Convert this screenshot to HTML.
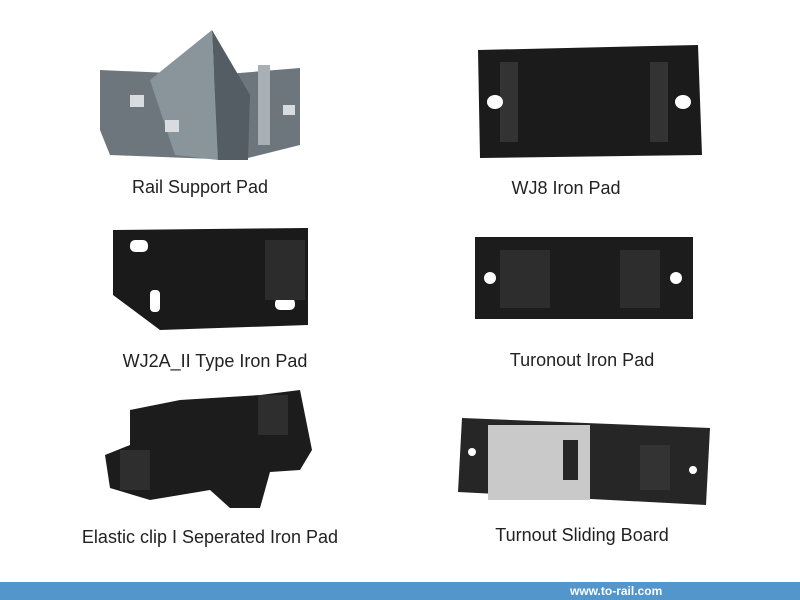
<!DOCTYPE html>
<html><head><meta charset="utf-8"><style>
html,body{margin:0;padding:0;background:#fff;width:800px;height:600px;overflow:hidden;font-family:"Liberation Sans",sans-serif}
.l{position:absolute;font-size:18px;color:#222;white-space:nowrap;transform:translateX(-50%)}
</style></head><body>
<svg width="800" height="600" style="position:absolute;left:0;top:0">
<!-- Rail support pad -->
<polygon points="100,70 215,75 300,68 300,145 240,160 110,155 100,130" fill="#6d767d"/>
<polygon points="150,80 212,30 218,160 175,155" fill="#8a949b"/>
<polygon points="212,30 250,95 248,160 218,160" fill="#545d63"/>
<rect x="258" y="65" width="12" height="80" fill="#a9b0b5"/>
<rect x="130" y="95" width="14" height="12" fill="#d8dcde"/>
<rect x="165" y="120" width="14" height="12" fill="#d8dcde"/>
<rect x="283" y="105" width="12" height="10" fill="#d8dcde"/>
<!-- WJ8 -->
<polygon points="478,50 698,45 702,155 480,158" fill="#1b1b1b"/>
<rect x="500" y="62" width="18" height="80" fill="#333"/>
<rect x="650" y="62" width="18" height="80" fill="#333"/>
<ellipse cx="495" cy="102" rx="8" ry="7" fill="#fff"/>
<ellipse cx="683" cy="102" rx="8" ry="7" fill="#fff"/>
<!-- WJ2A -->
<polygon points="113,230 308,228 308,325 160,330 113,295" fill="#1a1a1a"/>
<rect x="130" y="240" width="18" height="12" rx="5" fill="#fff"/>
<rect x="150" y="290" width="10" height="22" rx="4" fill="#fff"/>
<rect x="275" y="298" width="20" height="12" rx="5" fill="#fff"/>
<rect x="265" y="240" width="40" height="60" fill="#2c2c2c"/>
<!-- Turonout -->
<rect x="475" y="237" width="218" height="82" fill="#1c1c1c"/>
<rect x="500" y="250" width="50" height="58" fill="#2d2d2d"/>
<rect x="620" y="250" width="40" height="58" fill="#2d2d2d"/>
<circle cx="490" cy="278" r="6" fill="#fff"/>
<circle cx="676" cy="278" r="6" fill="#fff"/>
<!-- Elastic clip -->
<polygon points="130,410 180,400 260,395 300,390 312,450 300,470 270,472 260,508 230,508 210,490 150,500 110,488 105,455 130,445" fill="#1c1c1c"/>
<rect x="258" y="395" width="30" height="40" fill="#2e2e2e"/>
<rect x="120" y="450" width="30" height="40" fill="#2e2e2e"/>
<!-- Sliding board -->
<polygon points="462,418 710,428 706,505 458,492" fill="#262626"/>
<rect x="488" y="425" width="102" height="75" fill="#c9c9c9"/>
<rect x="563" y="440" width="15" height="40" fill="#262626"/>
<rect x="640" y="445" width="30" height="45" fill="#333"/>
<circle cx="472" cy="452" r="4" fill="#fff"/>
<circle cx="693" cy="470" r="4" fill="#fff"/>
<!-- bottom bar -->
<rect x="0" y="582" width="800" height="18" fill="#5396cc"/>
<text x="570" y="595" font-family="Liberation Sans, sans-serif" font-size="12" font-weight="bold" fill="#fff">www.to-rail.com</text>
</svg>
<div class="l" style="left:200px;top:177px">Rail Support Pad</div>
<div class="l" style="left:566px;top:178px">WJ8 Iron Pad</div>
<div class="l" style="left:215px;top:351px">WJ2A_II Type Iron Pad</div>
<div class="l" style="left:582px;top:350px">Turonout Iron Pad</div>
<div class="l" style="left:210px;top:527px">Elastic clip I Seperated Iron Pad</div>
<div class="l" style="left:582px;top:525px">Turnout Sliding Board</div>
</body></html>
